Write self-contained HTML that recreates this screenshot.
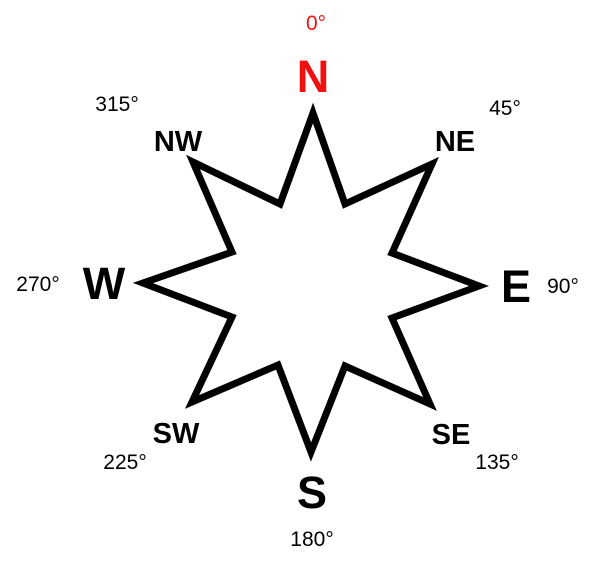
<!DOCTYPE html>
<html><head><meta charset="utf-8"><style>
body{margin:0;background:#fff;width:600px;height:565px;overflow:hidden}
text{font-family:"Liberation Sans",sans-serif}
.b{font-weight:bold;fill:#000}
.d{font-size:21px;fill:#000}
</style></head><body>
<svg width="600" height="565">
<polygon fill="#fff" stroke="#000" stroke-width="7" stroke-linejoin="miter"
 points="313,113 345,204 432,164 392,253 479,286 392,318 430,404 345,366 311,452 278,365 192,402 232,317 143,283 232,252 193,162 280,204"/>
<text x="316" y="30" text-anchor="middle" style="font-size:21px;fill:#f01010">0°</text>
<text x="313" y="92" text-anchor="middle" class="b" style="font-size:45px;fill:#f01010">N</text>
<text x="117" y="111" text-anchor="middle" class="d">315°</text>
<text x="178" y="151" text-anchor="middle" class="b" style="font-size:29px">NW</text>
<text x="505" y="115" text-anchor="middle" class="d">45°</text>
<text x="455" y="151" text-anchor="middle" class="b" style="font-size:29px">NE</text>
<text x="38" y="291" text-anchor="middle" class="d">270°</text>
<text x="104" y="299" text-anchor="middle" class="b" style="font-size:45px">W</text>
<text x="563" y="293" text-anchor="middle" class="d">90°</text>
<text x="516" y="302" text-anchor="middle" class="b" style="font-size:45px">E</text>
<text x="176" y="443" text-anchor="middle" class="b" style="font-size:29px">SW</text>
<text x="125" y="469" text-anchor="middle" class="d">225°</text>
<text x="451" y="444" text-anchor="middle" class="b" style="font-size:29px">SE</text>
<text x="497" y="469" text-anchor="middle" class="d">135°</text>
<text x="312" y="508" text-anchor="middle" class="b" style="font-size:45px">S</text>
<text x="312" y="546" text-anchor="middle" class="d">180°</text>
</svg>
</body></html>
